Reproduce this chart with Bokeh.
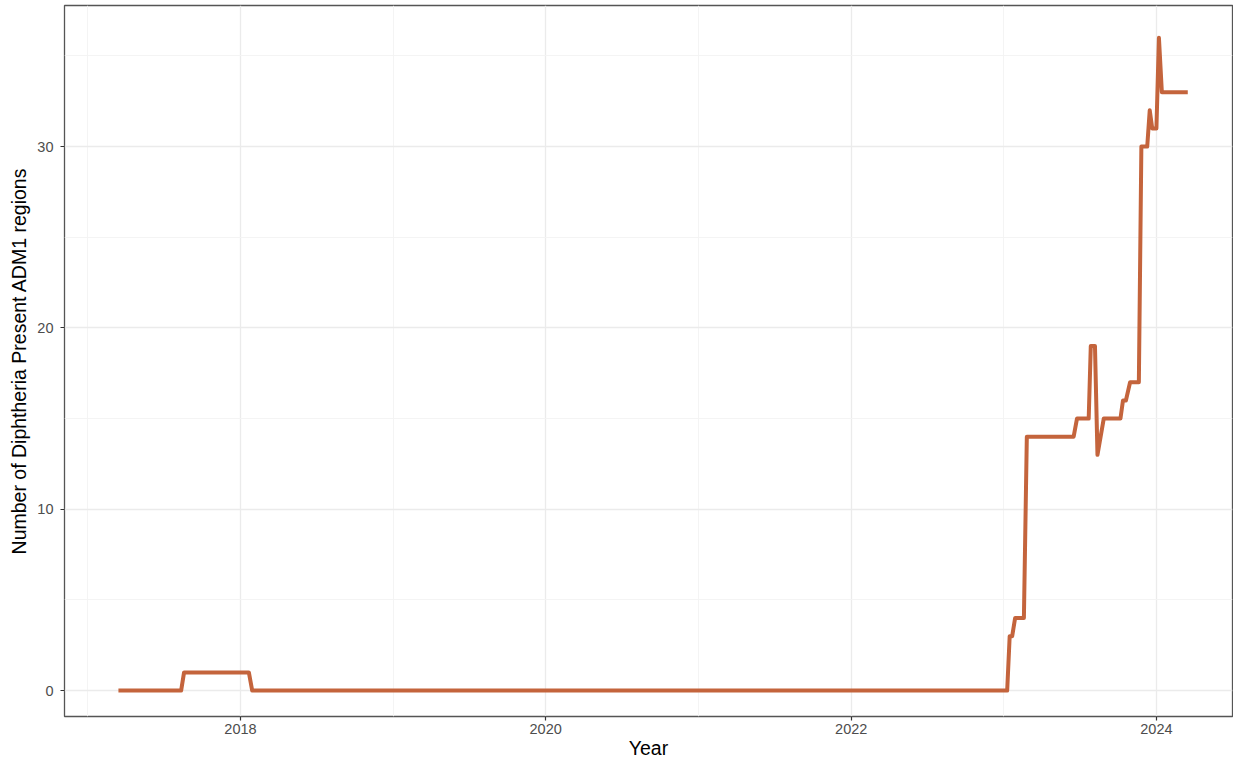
import pandas as pd
from bokeh.plotting import figure
from bokeh.models import Range1d, FixedTicker, DatetimeTickFormatter
from bokeh.embed import file_html
from bokeh.resources import INLINE

# ---- data ----
dates = [
    "2017-03-15", "2017-08-12", "2017-08-19", "2018-01-21", "2018-01-29",
    "2023-01-09", "2023-01-15", "2023-01-21", "2023-01-28", "2023-02-18",
    "2023-02-25", "2023-06-17", "2023-06-25", "2023-07-23", "2023-07-28",
    "2023-08-07", "2023-08-13", "2023-08-28", "2023-10-07", "2023-10-13",
    "2023-10-20", "2023-10-30", "2023-11-20", "2023-11-26", "2023-12-10",
    "2023-12-16", "2023-12-22", "2024-01-01", "2024-01-07", "2024-01-14",
    "2024-03-16",
]
regions = [
    0, 0, 1, 1, 0,
    0, 3, 3, 4, 4,
    14, 14, 15, 15, 19,
    19, 13, 15, 15, 16,
    16, 17, 17, 30, 30,
    32, 31, 31, 36, 33,
    33,
]
x_major_years = [2018, 2020, 2022, 2024]
x_minor_years = [2017, 2019, 2021, 2023]
y_major = [0, 10, 20, 30]
y_minor = [5, 15, 25, 35]

x = pd.to_datetime(dates)


def ms(year):
    return pd.Timestamp(f"{year}-01-01").value / 1e6


p = figure(
    width=1233, height=761,
    x_axis_type="datetime",
    x_range=Range1d(pd.Timestamp("2016-11-06"), pd.Timestamp("2024-07-01")),
    y_range=Range1d(-1.43, 37.78),
    output_backend="svg", toolbar_location=None,
    min_border_left=64, min_border_right=1, min_border_top=5, min_border_bottom=43,
)

p.line(x, regions, line_color="#C4643C", line_width=4, line_join="round")

# ticks
xt = FixedTicker(ticks=[ms(y) for y in x_major_years], minor_ticks=[ms(y) for y in x_minor_years])
p.xaxis.ticker = xt
p.xgrid.ticker = xt
fmt = "%Y"
p.xaxis.formatter = DatetimeTickFormatter(
    milliseconds=fmt, seconds=fmt, minsec=fmt, minutes=fmt, hourmin=fmt,
    hours=fmt, days=fmt, months=fmt, years=fmt)
yt = FixedTicker(ticks=y_major, minor_ticks=y_minor)
p.yaxis.ticker = yt
p.ygrid.ticker = yt

# grid
for g in (p.xgrid, p.ygrid):
    g.grid_line_color = "#EBEBEB"
    g.grid_line_width = 1.3
    g.minor_grid_line_color = "#F3F3F3"
    g.minor_grid_line_width = 0.9

# frame
p.outline_line_color = "#555555"
p.outline_line_width = 1.3
p.background_fill_color = "white"
p.border_fill_color = "white"

# axes
for ax in (p.xaxis, p.yaxis):
    ax.axis_line_color = None
    ax.major_tick_line_color = "#333333"
    ax.major_tick_line_width = 1.2
    ax.major_tick_out = 4
    ax.major_tick_in = 0
    ax.minor_tick_line_color = None
    ax.major_label_text_font = "Liberation Sans"
    ax.major_label_text_font_size = "14.5px"
    ax.major_label_text_color = "#4D4D4D"
    ax.axis_label_text_font = "Liberation Sans"
    ax.axis_label_text_font_size = "19.5px"
    ax.axis_label_text_font_style = "normal"
    ax.axis_label_text_color = "#000000"

p.xaxis.axis_label = "Year"
p.yaxis.axis_label = "Number of Diphtheria Present ADM1 regions"
p.xaxis.major_label_standoff = 3
p.xaxis.axis_label_standoff = 0
p.yaxis.major_label_standoff = 7
p.yaxis.axis_label_standoff = 4

open("out.html", "w").write(file_html(p, INLINE))
